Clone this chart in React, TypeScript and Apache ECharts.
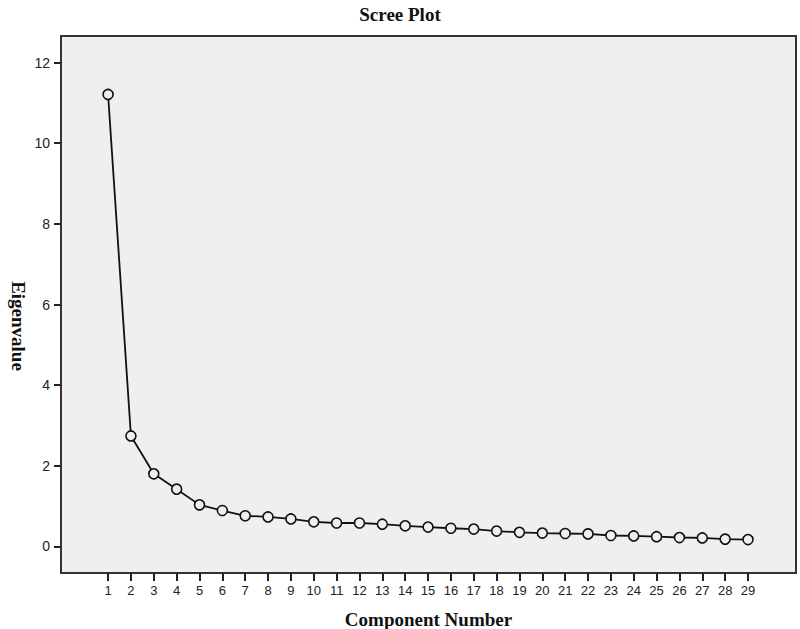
import React, { useEffect, useRef } from "react";
import * as echarts from "echarts";

const components: number[] = [1, 2, 3, 4, 5, 6, 7, 8, 9, 10, 11, 12, 13, 14, 15, 16, 17, 18, 19, 20, 21, 22, 23, 24, 25, 26, 27, 28, 29];
const eigenvalues: number[] = [11.21, 2.74, 1.80, 1.42, 1.03, 0.89, 0.76, 0.73, 0.68, 0.61, 0.58, 0.58, 0.55, 0.51, 0.48, 0.45, 0.43, 0.38, 0.35, 0.33, 0.32, 0.31, 0.27, 0.26, 0.24, 0.22, 0.21, 0.18, 0.17];
const yTicks: number[] = [0, 2, 4, 6, 8, 10, 12];
const yAxisTitle = "Eigenvalue";

export default function App() {
  const ref = useRef<HTMLDivElement>(null);
  useEffect(() => {
    if (!ref.current) return;
    const chart = echarts.init(ref.current, null, { renderer: "svg" });
    const serif = "'Liberation Serif', 'DejaVu Serif', serif";
    const sans = "'Liberation Sans', Arial, sans-serif";
    chart.setOption({
      animation: false,
      backgroundColor: "#ffffff",
      title: {
        text: "Scree Plot",
        left: "center",
        top: 0,
        textStyle: { fontFamily: serif, fontWeight: "bold", fontSize: 19, color: "#111" },
      },
      graphic: [
        {
          type: "text",
          x: 18,
          y: 326,
          rotation: -Math.PI / 2,
          style: {
            text: yAxisTitle,
            fontFamily: serif,
            fontWeight: "bold",
            fontSize: 19,
            fill: "#111",
            align: "center",
            verticalAlign: "middle",
          },
        },
      ],
      grid: {
        left: 61,
        top: 36,
        right: 4,
        bottom: 56,
        outerBoundsMode: "none",
        containLabel: false,
        show: true,
        backgroundColor: "#efefef",
        borderColor: "#333",
        borderWidth: 2,
      },
      xAxis: {
        type: "value",
        min: -1.06,
        max: 31.1,
        name: "Component Number",
        nameLocation: "middle",
        nameGap: 37,
        nameTextStyle: { fontFamily: serif, fontWeight: "bold", fontSize: 19, color: "#111" },
        splitLine: { show: false },
        axisLine: { show: true, onZero: false, lineStyle: { color: "#333", width: 2 } },
        axisTick: { show: true, inside: false, length: 8, customValues: components, lineStyle: { color: "#222", width: 2 } },
        axisLabel: {
          customValues: components,
          fontFamily: sans,
          fontSize: 13,
          color: "#222",
          margin: 11,
        },
      },
      yAxis: {
        type: "value",
        min: -0.66,
        max: 12.66,
        splitLine: { show: false },
        axisLine: { show: true, onZero: false, lineStyle: { color: "#333", width: 2 } },
        axisTick: { show: true, inside: false, length: 7, customValues: yTicks, lineStyle: { color: "#222", width: 2 } },
        axisLabel: {
          customValues: yTicks,
          fontFamily: sans,
          fontSize: 14,
          color: "#222",
          margin: 11,
        },
      },
      series: [
        {
          type: "line",
          data: components.map((c, i) => [c, eigenvalues[i]]),
          symbol: "circle",
          symbolSize: 10,
          showSymbol: true,
          itemStyle: { color: "#efefef", borderColor: "#111", borderWidth: 1.6 },
          lineStyle: { color: "#111", width: 1.8 },
          z: 3,
        },
      ],
    });
    return () => chart.dispose();
  }, []);
  return <div ref={ref} style={{ width: 800, height: 629, position: "absolute", left: 0, top: 0 }} />;
}
